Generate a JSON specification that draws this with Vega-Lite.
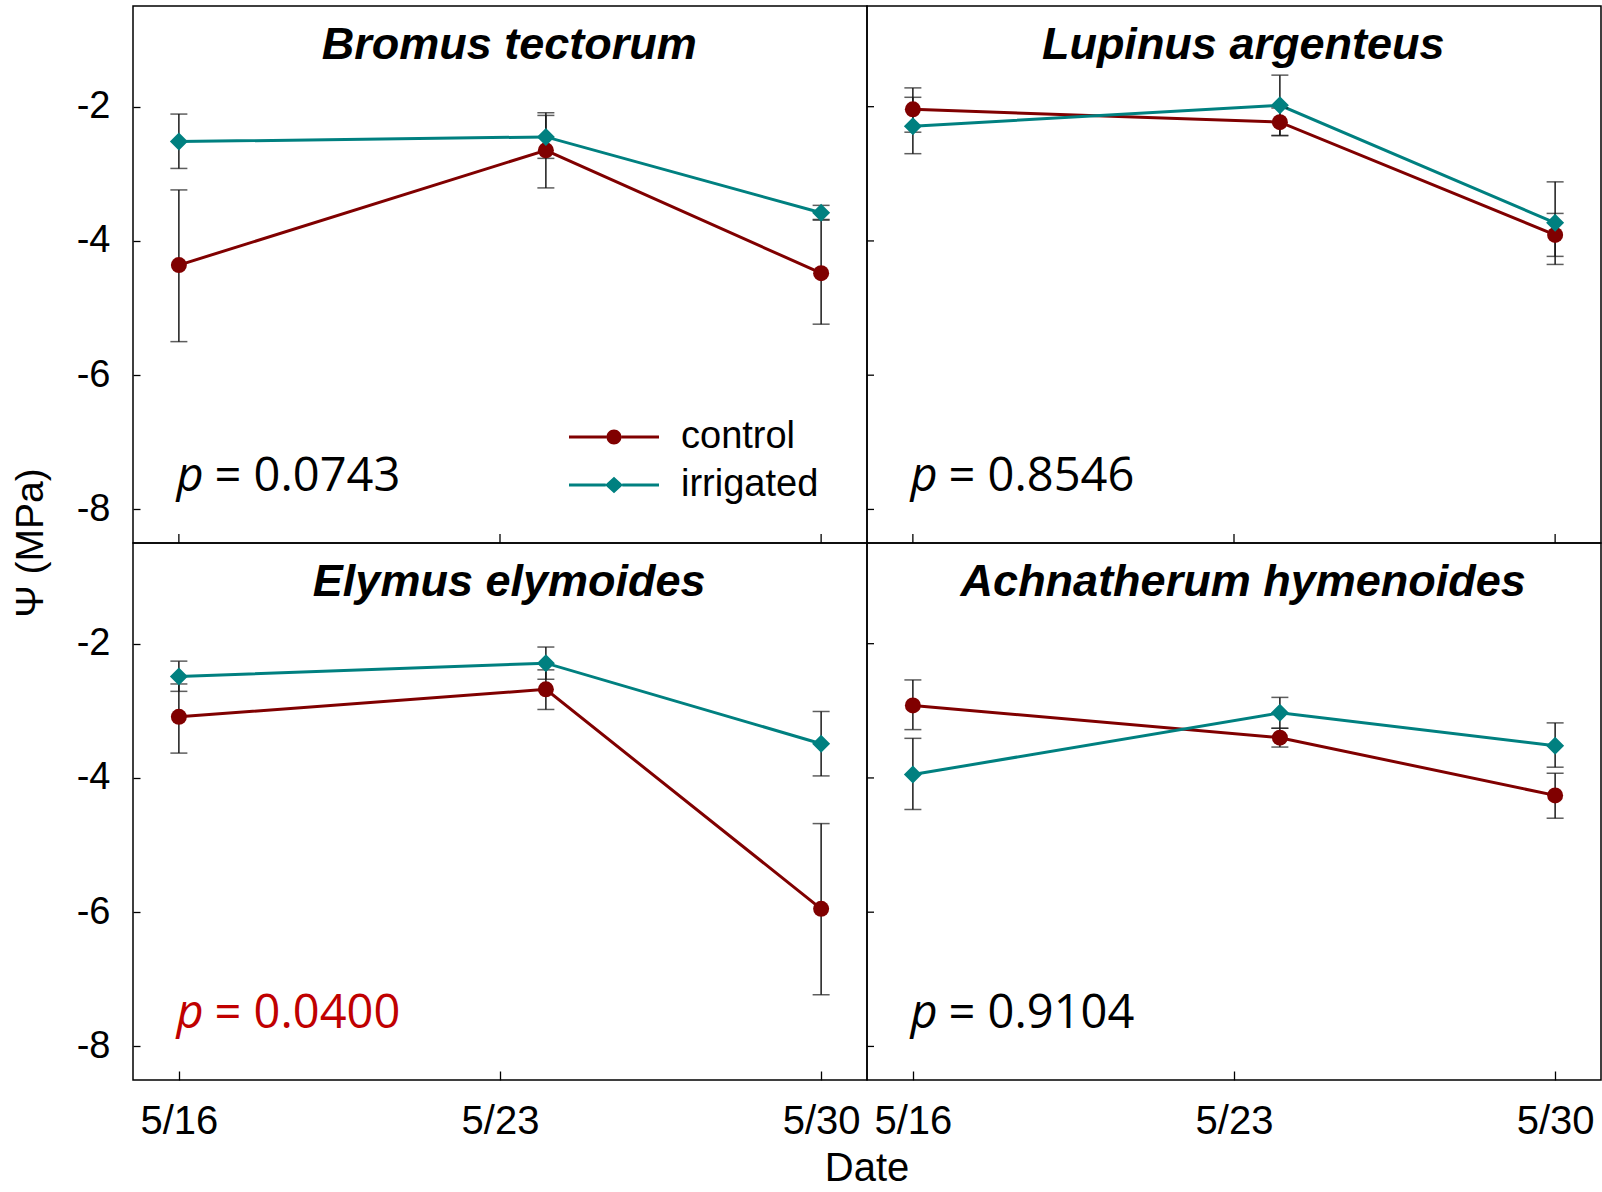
{
  "$schema": "https://vega.github.io/schema/vega-lite/v6.json",
  "padding": {"left": 11, "top": 5, "right": 0, "bottom": 0},
  "background": "white",
  "bounds": "flush",
  "data": {
    "values": [
      {"species": "Bromus tectorum", "panel_row": "top", "panel_col": "left", "treatment": "control", "date": 16, "mean": -4.36, "lo": -5.50, "hi": -3.24, "p": "0.0743"},
      {"species": "Bromus tectorum", "panel_row": "top", "panel_col": "left", "treatment": "control", "date": 24, "mean": -2.65, "lo": -3.21, "hi": -2.13, "p": "0.0743"},
      {"species": "Bromus tectorum", "panel_row": "top", "panel_col": "left", "treatment": "control", "date": 30, "mean": -4.48, "lo": -5.24, "hi": -3.69, "p": "0.0743"},
      {"species": "Bromus tectorum", "panel_row": "top", "panel_col": "left", "treatment": "irrigated", "date": 16, "mean": -2.52, "lo": -2.92, "hi": -2.11, "p": "0.0743"},
      {"species": "Bromus tectorum", "panel_row": "top", "panel_col": "left", "treatment": "irrigated", "date": 24, "mean": -2.45, "lo": -2.77, "hi": -2.09, "p": "0.0743"},
      {"species": "Bromus tectorum", "panel_row": "top", "panel_col": "left", "treatment": "irrigated", "date": 30, "mean": -3.58, "lo": -3.68, "hi": -3.47, "p": "0.0743"},
      {"species": "Lupinus argenteus", "panel_row": "top", "panel_col": "right", "treatment": "control", "date": 16, "mean": -2.04, "lo": -2.38, "hi": -1.72, "p": "0.8546"},
      {"species": "Lupinus argenteus", "panel_row": "top", "panel_col": "right", "treatment": "control", "date": 24, "mean": -2.23, "lo": -2.43, "hi": -2.02, "p": "0.8546"},
      {"species": "Lupinus argenteus", "panel_row": "top", "panel_col": "right", "treatment": "control", "date": 30, "mean": -3.91, "lo": -4.23, "hi": -3.59, "p": "0.8546"},
      {"species": "Lupinus argenteus", "panel_row": "top", "panel_col": "right", "treatment": "irrigated", "date": 16, "mean": -2.29, "lo": -2.70, "hi": -1.86, "p": "0.8546"},
      {"species": "Lupinus argenteus", "panel_row": "top", "panel_col": "right", "treatment": "irrigated", "date": 24, "mean": -1.98, "lo": -2.43, "hi": -1.53, "p": "0.8546"},
      {"species": "Lupinus argenteus", "panel_row": "top", "panel_col": "right", "treatment": "irrigated", "date": 30, "mean": -3.73, "lo": -4.35, "hi": -3.12, "p": "0.8546"},
      {"species": "Elymus elymoides", "panel_row": "bottom", "panel_col": "left", "treatment": "control", "date": 16, "mean": -3.09, "lo": -3.63, "hi": -2.60, "p": "0.0400"},
      {"species": "Elymus elymoides", "panel_row": "bottom", "panel_col": "left", "treatment": "control", "date": 24, "mean": -2.68, "lo": -2.98, "hi": -2.39, "p": "0.0400"},
      {"species": "Elymus elymoides", "panel_row": "bottom", "panel_col": "left", "treatment": "control", "date": 30, "mean": -5.95, "lo": -7.23, "hi": -4.68, "p": "0.0400"},
      {"species": "Elymus elymoides", "panel_row": "bottom", "panel_col": "left", "treatment": "irrigated", "date": 16, "mean": -2.49, "lo": -2.71, "hi": -2.26, "p": "0.0400"},
      {"species": "Elymus elymoides", "panel_row": "bottom", "panel_col": "left", "treatment": "irrigated", "date": 24, "mean": -2.29, "lo": -2.53, "hi": -2.05, "p": "0.0400"},
      {"species": "Elymus elymoides", "panel_row": "bottom", "panel_col": "left", "treatment": "irrigated", "date": 30, "mean": -3.49, "lo": -3.97, "hi": -3.01, "p": "0.0400"},
      {"species": "Achnatherum hymenoides", "panel_row": "bottom", "panel_col": "right", "treatment": "control", "date": 16, "mean": -2.92, "lo": -3.28, "hi": -2.54, "p": "0.9104"},
      {"species": "Achnatherum hymenoides", "panel_row": "bottom", "panel_col": "right", "treatment": "control", "date": 24, "mean": -3.40, "lo": -3.54, "hi": -3.26, "p": "0.9104"},
      {"species": "Achnatherum hymenoides", "panel_row": "bottom", "panel_col": "right", "treatment": "control", "date": 30, "mean": -4.26, "lo": -4.60, "hi": -3.93, "p": "0.9104"},
      {"species": "Achnatherum hymenoides", "panel_row": "bottom", "panel_col": "right", "treatment": "irrigated", "date": 16, "mean": -3.95, "lo": -4.47, "hi": -3.41, "p": "0.9104"},
      {"species": "Achnatherum hymenoides", "panel_row": "bottom", "panel_col": "right", "treatment": "irrigated", "date": 24, "mean": -3.03, "lo": -3.26, "hi": -2.80, "p": "0.9104"},
      {"species": "Achnatherum hymenoides", "panel_row": "bottom", "panel_col": "right", "treatment": "irrigated", "date": 30, "mean": -3.52, "lo": -3.84, "hi": -3.18, "p": "0.9104"}
    ]
  },
  "facet": {
    "row": {
      "field": "panel_row", "type": "nominal", "sort": ["top", "bottom"], "title": "Ψ (MPa)",
      "header": {"labels": false, "titleOrient": "left", "titleFont": "Arial", "titleFontSize": 39, "titleFontWeight": "normal", "titleColor": "#000", "titlePadding": 15}
    },
    "column": {
      "field": "panel_col", "type": "nominal", "sort": ["left", "right"], "title": "Date",
      "header": {"labels": false, "titleOrient": "bottom", "titleFont": "Arial", "titleFontSize": 40, "titleFontWeight": "normal", "titleColor": "#000", "titlePadding": -2}
    }
  },
  "spacing": {"row": 0, "column": 0},
  "spec": {
    "width": 734,
    "height": 537,
    "encoding": {
      "x": {
        "field": "date",
        "type": "quantitative",
        "title": null,
        "scale": {"domain": [15, 31], "nice": false, "zero": false},
        "axis": {
          "values": [16, 23, 30],
          "labelExpr": "'5/' + datum.value",
          "grid": false,
          "domain": false,
          "tickSize": -9,
          "tickColor": "#000",
          "tickWidth": 1.3,
          "labelPadding": 30,
          "labelFont": "Arial",
          "labelFontSize": 40,
          "labelColor": "#000"
        }
      },
      "y": {
        "field": "mean",
        "type": "quantitative",
        "title": null,
        "scale": {"domain": [-8.5, -0.5], "nice": false, "zero": false},
        "axis": {
          "values": [-2, -4, -6, -8],
          "labelExpr": "replace(datum.label, '−', '-')",
          "grid": false,
          "domain": false,
          "tickSize": -7,
          "tickColor": "#000",
          "tickWidth": 1.3,
          "labelPadding": 30,
          "labelFont": "Arial",
          "labelFontSize": 38,
          "labelColor": "#000"
        }
      }
    },
    "layer": [
      {
        "transform": [{"filter": "datum.panel_row == 'top' && datum.date == 16 && datum.treatment == 'control'"}],
        "mark": {"type": "rule", "color": "#000", "strokeWidth": 1.3},
        "encoding": {"x": {"datum": 16}, "y": {"datum": -8.5}, "y2": {"datum": -8.366}}
      },
      {
        "transform": [{"filter": "datum.panel_row == 'top' && datum.date == 16 && datum.treatment == 'control'"}],
        "mark": {"type": "rule", "color": "#000", "strokeWidth": 1.3},
        "encoding": {"x": {"datum": 23}, "y": {"datum": -8.5}, "y2": {"datum": -8.366}}
      },
      {
        "transform": [{"filter": "datum.panel_row == 'top' && datum.date == 16 && datum.treatment == 'control'"}],
        "mark": {"type": "rule", "color": "#000", "strokeWidth": 1.3},
        "encoding": {"x": {"datum": 30}, "y": {"datum": -8.5}, "y2": {"datum": -8.366}}
      },
      {
        "transform": [{"filter": "datum.panel_col == 'right' && datum.date == 16 && datum.treatment == 'control'"}],
        "mark": {"type": "rule", "color": "#000", "strokeWidth": 1.3},
        "encoding": {"y": {"datum": -2}, "x": {"datum": 15}, "x2": {"datum": 15.153}}
      },
      {
        "transform": [{"filter": "datum.panel_col == 'right' && datum.date == 16 && datum.treatment == 'control'"}],
        "mark": {"type": "rule", "color": "#000", "strokeWidth": 1.3},
        "encoding": {"y": {"datum": -4}, "x": {"datum": 15}, "x2": {"datum": 15.153}}
      },
      {
        "transform": [{"filter": "datum.panel_col == 'right' && datum.date == 16 && datum.treatment == 'control'"}],
        "mark": {"type": "rule", "color": "#000", "strokeWidth": 1.3},
        "encoding": {"y": {"datum": -6}, "x": {"datum": 15}, "x2": {"datum": 15.153}}
      },
      {
        "transform": [{"filter": "datum.panel_col == 'right' && datum.date == 16 && datum.treatment == 'control'"}],
        "mark": {"type": "rule", "color": "#000", "strokeWidth": 1.3},
        "encoding": {"y": {"datum": -8}, "x": {"datum": 15}, "x2": {"datum": 15.153}}
      },
      {
        "mark": {"type": "line", "strokeWidth": 3},
        "encoding": {
          "color": {
            "field": "treatment",
            "type": "nominal",
            "title": null,
            "scale": {"domain": ["control", "irrigated"], "range": ["#800000", "#008080"]},
            "legend": {
              "orient": "none",
              "legendX": 462,
              "legendY": 412,
              "padding": 0,
              "symbolSize": 225,
              "symbolStrokeWidth": 0,
              "labelOffset": 48,
              "labelFont": "Arial",
              "labelFontSize": 38,
              "labelColor": "#000",
              "rowPadding": 10,
              "encode": {
                "symbols": {
                  "update": {
                    "shape": {"signal": "datum.value == 'control' ? 'M-6,-0.2H-1V0.2H-6Z M1,-0.2H6V0.2H1Z M-1,0A1,1 0 1,0 1,0A1,1 0 1,0 -1,0Z' : 'M-6,-0.2H-1.1V0.2H-6Z M1.1,-0.2H6V0.2H1.1Z M0,-1.1L1.2,0L0,1.1L-1.2,0Z'"},
                    "fill": {"signal": "datum.value == 'control' ? '#800000' : '#008080'"},
                    "fillOpacity": {"value": 1},
                    "stroke": {"value": "transparent"}
                  }
                }
              }
            }
          },
          "detail": {"field": "treatment"}
        }
      },
      {
        "mark": {"type": "rule", "color": "#1a1a1a", "strokeWidth": 1.5},
        "encoding": {"y": {"field": "lo", "type": "quantitative"}, "y2": {"field": "hi"}}
      },
      {
        "mark": {"type": "tick", "orient": "horizontal", "color": "#1a1a1a", "size": 17, "thickness": 1.5},
        "encoding": {"y": {"field": "lo", "type": "quantitative"}}
      },
      {
        "mark": {"type": "tick", "orient": "horizontal", "color": "#1a1a1a", "size": 17, "thickness": 1.5},
        "encoding": {"y": {"field": "hi", "type": "quantitative"}}
      },
      {
        "transform": [{"filter": "datum.treatment == 'control'"}],
        "mark": {"type": "point", "shape": "circle", "filled": true, "opacity": 1, "strokeWidth": 0, "size": 256, "color": "#800000"},
        "encoding": {}
      },
      {
        "transform": [{"filter": "datum.treatment == 'irrigated'"}],
        "mark": {"type": "point", "shape": "diamond", "filled": true, "opacity": 1, "strokeWidth": 0, "size": 324, "color": "#008080"},
        "encoding": {}
      },
      {
        "transform": [{"filter": "datum.date == 16 && datum.treatment == 'control'"}],
        "mark": {"type": "text", "font": "Arial", "fontSize": 45, "fontWeight": "bold", "fontStyle": "italic", "align": "center", "baseline": "middle", "color": "#000"},
        "encoding": {
          "x": {"datum": 23.2},
          "y": {"datum": -1.08},
          "text": {"field": "species"}
        }
      },
      {
        "transform": [{"filter": "datum.date == 16 && datum.treatment == 'control'"}],
        "mark": {"type": "text", "font": "Open Sans", "fontSize": 47, "fontStyle": "italic", "align": "left", "baseline": "alphabetic", "text": "p"},
        "encoding": {
          "x": {"datum": 15.95},
          "y": {"datum": -7.73},
          "color": {"condition": {"test": "toNumber(datum.p) < 0.05", "value": "#c00000"}, "value": "#000"}
        }
      },
      {
        "transform": [{"filter": "datum.date == 16 && datum.treatment == 'control'"}],
        "mark": {"type": "text", "font": "Open Sans", "fontSize": 47, "align": "left", "baseline": "alphabetic", "text": "=", "dx": 38},
        "encoding": {
          "x": {"datum": 15.95},
          "y": {"datum": -7.73},
          "color": {"condition": {"test": "toNumber(datum.p) < 0.05", "value": "#c00000"}, "value": "#000"}
        }
      },
      {
        "transform": [{"filter": "datum.date == 16 && datum.treatment == 'control'"}],
        "mark": {"type": "text", "font": "Open Sans", "fontSize": 47, "align": "left", "baseline": "alphabetic", "dx": 77},
        "encoding": {
          "x": {"datum": 15.95},
          "y": {"datum": -7.73},
          "text": {"field": "p", "type": "nominal"},
          "color": {"condition": {"test": "toNumber(datum.p) < 0.05", "value": "#c00000"}, "value": "#000"}
        }
      }
    ]
  },
  "config": {
    "view": {"stroke": "#000", "strokeWidth": 1.5},
    "legend": {"titleFontSize": 0}
  }
}
